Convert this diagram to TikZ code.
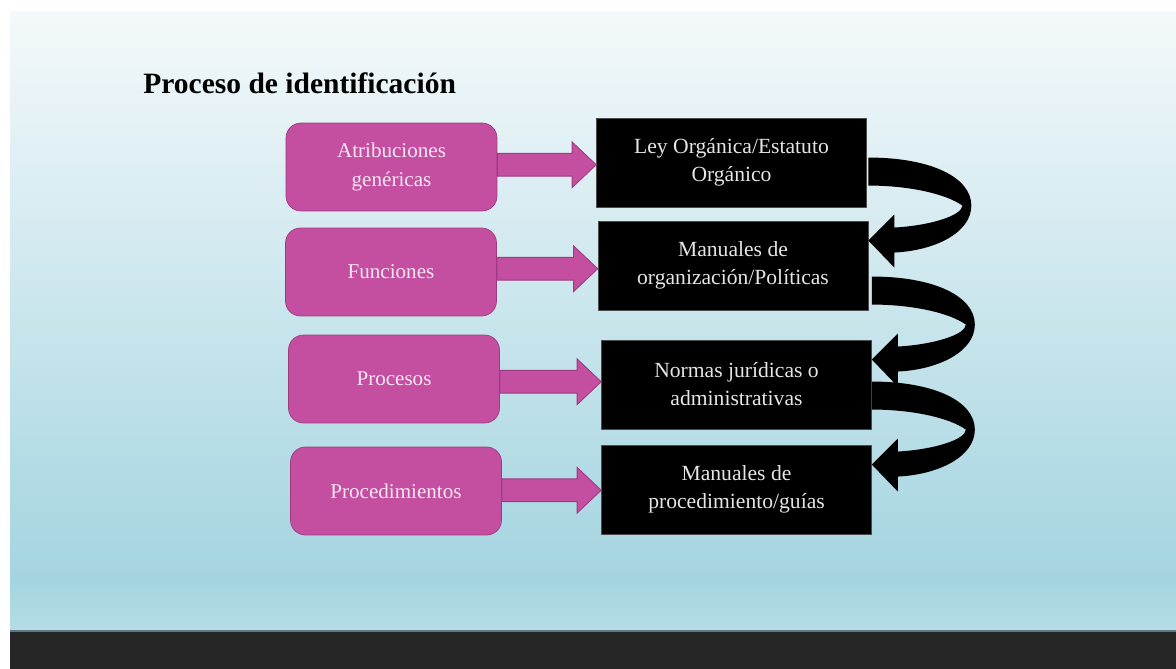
\documentclass[tikz,border=0pt]{standalone}
\usepackage{fontspec}
\setmainfont{Liberation Serif}
\usetikzlibrary{calc}

\definecolor{slidetop}{RGB}{244,249,251}
\definecolor{slidemid}{RGB}{201,230,237}
\definecolor{slidelow}{RGB}{164,212,224}
\definecolor{slidebase}{RGB}{181,221,230}
\definecolor{barcol}{RGB}{38,38,38}
\definecolor{barline}{RGB}{95,120,128}
\definecolor{magentafill}{RGB}{196,79,160}
\definecolor{magentaedge}{RGB}{158,58,128}
\definecolor{pinktext}{RGB}{246,230,243}

\tikzset{
	pinkbox/.style={draw=magentaedge, fill=magentafill, rounded corners=8.5pt, minimum width=4.22cm, minimum height=1.76cm, text=pinktext, align=center, font=\fontsize{12}{16}\selectfont},
	blackbox/.style={draw=black!70, fill=black, minimum width=5.4cm, minimum height=1.78cm, text=white!90!black, align=center, font=\fontsize{12.3}{16}\selectfont},
	pinkarrow/.style={fill=magentafill, draw=magentaedge, line width=0.5pt, line join=miter},
	bentarrow/.style={fill=black},
}

% flat arrow from a pink box to a black box
\newcommand{\pinkarrowto}[2]{%
	\fill[pinkarrow] let \p1=(#1.east), \p2=(#2.west), \n1={(\y1+\y2)/2} in
		(\x1,\n1+6.5pt) -- (\x2-13.7pt,\n1+6.5pt) -- (\x2-13.7pt,\n1+13pt) -- (\x2,\n1)
		-- (\x2-13.7pt,\n1-13pt) -- (\x2-13.7pt,\n1-6.5pt) -- (\x1,\n1-6.5pt) -- cycle;}

% bent arrow coming back into the right side of a black box
\newcommand{\bendarrowto}[1]{%
	\begin{scope}[shift={([yshift=14.2pt]#1.east)}]
		\fill[bentarrow] (0,-83) .. controls (63,-83) and (103,-63) .. (103,-35)
			.. controls (103,-8) and (67,10) .. (26,12) -- (26,27) -- (0,0) -- (26,-26) -- (26,-13)
			.. controls (62,-15) and (94,-25) .. (94,-35)
			.. controls (77,-47) and (40,-55) .. (0,-55) -- cycle;
	\end{scope}}

\begin{document}
\begin{tikzpicture}[x=0.02cm, y=-0.02cm, line join=round]
	% slide background
	\fill[white] (0,0) rectangle (1176,669);
	\useasboundingbox (0,0) rectangle (1176,669);
	\shade[top color=slidetop, middle color=slidemid, bottom color=slidelow] (10,12) rectangle (1176,580);
	\shade[top color=slidelow, bottom color=slidebase] (10,579) rectangle (1176,631);
	\fill[barcol] (10,631) rectangle (1176,669);
	\draw[barline, line width=0.6pt] (10,631) -- (1176,631);

	\node[anchor=base west, inner sep=0pt, font=\fontsize{16.8}{20}\selectfont\bfseries] (title) at (143,93) {Proceso de identificación};

	% left column
	\node[pinkbox] (atrib) at (391.5,167) {Atribuciones\\genéricas};
	\node[pinkbox] (func) at (391,272) {Funciones};
	\node[pinkbox] (proc) at (394,379) {Procesos};
	\node[pinkbox] (proced) at (396,491) {Procedimientos};

	% right column
	\node[blackbox] (ley) at (731.5,162.5) {Ley Orgánica/Estatuto\\Orgánico};
	\node[blackbox] (manorg) at (733,265.5) {Manuales de\\organización/Políticas};
	\node[blackbox] (normas) at (736.5,384.5) {Normas jurídicas o\\administrativas};
	\node[blackbox] (manproc) at (736.5,489.5) {Manuales de\\procedimiento/guías};

	\pinkarrowto{atrib}{ley}
	\pinkarrowto{func}{manorg}
	\pinkarrowto{proc}{normas}
	\pinkarrowto{proced}{manproc}

	\bendarrowto{manorg}
	\bendarrowto{normas}
	\bendarrowto{manproc}
\end{tikzpicture}
\end{document}
